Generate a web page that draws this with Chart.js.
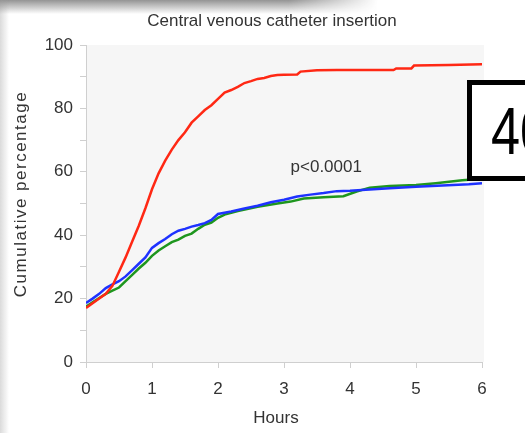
<!DOCTYPE html>
<html>
<head>
<meta charset="utf-8">
<script src="https://cdn.jsdelivr.net/npm/chart.js@4/dist/chart.umd.min.js"></script>
<style>
  body { margin: 0; background: #fff; }
  #wrap { position: relative; width: 525px; height: 433px; overflow: hidden; background: #fff; }
  #shadeTop {
    position: absolute; left: 0; top: 0; width: 525px; height: 14px;
    background: linear-gradient(to bottom, rgba(60,60,60,0.55), rgba(60,60,60,0));
    -webkit-mask-image: linear-gradient(to right, #000 55%, transparent 72%);
    mask-image: linear-gradient(to right, #000 55%, transparent 72%);
  }
  #shadeLeft {
    position: absolute; left: 0; top: 0; width: 9px; height: 433px;
    background: linear-gradient(to right, rgba(150,150,150,0.35), rgba(150,150,150,0));
  }
  #slideNum {
    position: absolute; left: 467px; top: 80px; width: 110px; height: 101px;
    box-sizing: border-box; border: 5px solid #000; background: #fff;
    font-family: "Liberation Sans", Arial, sans-serif; font-size: 67px; color: #000;
    line-height: 91px; padding-left: 19px; white-space: nowrap;
  }
  #slideNum span { display: inline-block; transform: scaleX(0.78); transform-origin: left center; }
</style>
</head>
<body>
<div id="wrap">
  <canvas id="myChart" width="525" height="433"></canvas>
  <div id="shadeTop"></div>
  <div id="shadeLeft"></div>
  <div id="slideNum"><span>40</span></div>
</div>
<script>
'use strict';

// text
let chartTitle = 'Central venous catheter insertion';
let xTitle = 'Hours';
let yTitle = 'Cumulative percentage';
let pLabel = 'p<0.0001';

// red curve
let redHours = [0, 0.1, 0.2, 0.3, 0.4, 0.5, 0.6, 0.7, 0.8, 0.9, 1.0, 1.1, 1.2, 1.3, 1.4, 1.5, 1.6, 1.7, 1.8, 1.9, 2.0, 2.1, 2.2, 2.3, 2.4, 2.5, 2.6, 2.7, 2.8, 2.9, 3.0, 3.2, 3.25, 3.5, 3.8, 4.66, 4.7, 4.93, 4.97, 5.5, 6.0];
let redPct = [17, 18.5, 20, 21.5, 24, 28.5, 33, 38, 43, 48.5, 54.5, 59.5, 63.5, 67, 70, 72.5, 75.5, 77.5, 79.5, 81, 83, 85, 85.8, 86.8, 88, 88.6, 89.3, 89.6, 90.2, 90.5, 90.6, 90.7, 91.6, 92, 92.1, 92.1, 92.6, 92.6, 93.5, 93.7, 93.9];

// blue curve
let blueHours = [0, 0.1, 0.2, 0.3, 0.4, 0.5, 0.6, 0.7, 0.8, 0.9, 1.0, 1.1, 1.2, 1.3, 1.4, 1.5, 1.6, 1.7, 1.8, 1.9, 2.0, 2.2, 2.4, 2.6, 2.8, 3.0, 3.2, 3.4, 3.6, 3.8, 4.0, 4.3, 4.6, 5.0, 5.4, 5.8, 6.0];
let bluePct = [18.6, 20, 21.5, 23.3, 24.5, 25.5, 27, 29, 31, 33, 36, 37.5, 38.8, 40.3, 41.4, 42, 42.7, 43.2, 43.8, 44.8, 46.7, 47.5, 48.4, 49.3, 50.4, 51.2, 52.2, 52.8, 53.3, 53.9, 54, 54.4, 54.8, 55.3, 55.7, 56.1, 56.4];

// green curve
let greenHours = [0, 0.1, 0.2, 0.3, 0.4, 0.5, 0.6, 0.7, 0.8, 0.9, 1.0, 1.1, 1.2, 1.3, 1.4, 1.5, 1.6, 1.7, 1.8, 1.9, 2.0, 2.1, 2.3, 2.6, 2.9, 3.1, 3.3, 3.6, 3.9, 4.1, 4.3, 4.6, 5.0, 5.3, 5.7, 6.0];
let greenPct = [17.4, 18.8, 20.2, 21.5, 22.5, 23.5, 25.5, 27.5, 29.5, 31.3, 33.5, 35.2, 36.5, 37.8, 38.6, 39.8, 40.5, 42, 43.3, 44, 45.5, 46.5, 47.6, 49, 50, 50.6, 51.6, 52, 52.3, 53.8, 55, 55.5, 55.8, 56.4, 57.3, 57.8];

function toPoints(xs, ys) {
  let pts = [];
  for (let i = 0; i < xs.length; i++) {
    pts.push({ x: xs[i], y: ys[i] });
  }
  return pts;
}

const fontFam = '"Liberation Sans", Arial, sans-serif';
const textColor = '#333';

// gray plot area + extra text
const decorPlugin = {
  id: 'decor',
  beforeDraw(chart) {
    const a = chart.chartArea;
    const ctx = chart.ctx;
    ctx.save();
    ctx.fillStyle = '#f6f6f6';
    ctx.fillRect(a.left, a.top, a.right - a.left + 2, a.bottom - a.top);
    ctx.restore();
  },
  afterDraw(chart) {
    const ctx = chart.ctx;
    const xs = chart.scales.x;
    const ys = chart.scales.y;
    ctx.save();
    ctx.fillStyle = textColor;
    ctx.font = '17px ' + fontFam;
    ctx.textAlign = 'center';
    ctx.textBaseline = 'middle';
    ctx.fillText(chartTitle, 272, 21);
    ctx.fillText(xTitle, 276, 418);
    ctx.fillText(pLabel, xs.getPixelForValue(3.64), ys.getPixelForValue(61.3));
    ctx.translate(21, 194);
    ctx.rotate(-Math.PI / 2);
    ctx.letterSpacing = '1.5px';
    ctx.fillText(yTitle, 0, 0);
    ctx.restore();
  }
};

const data = {
  datasets: [
    {
      label: 'red',
      data: toPoints(redHours, redPct),
      borderColor: 'rgb(255, 40, 20)',
      borderWidth: 2.5
    },
    {
      label: 'blue',
      data: toPoints(blueHours, bluePct),
      borderColor: 'rgb(30, 50, 255)',
      borderWidth: 2.5
    },
    {
      label: 'green',
      data: toPoints(greenHours, greenPct),
      borderColor: 'rgb(30, 150, 30)',
      borderWidth: 2.5
    }
  ]
};

const config = {
  type: 'line',
  data: data,
  options: {
    responsive: false,
    animation: false,
    layout: { padding: { top: 45, right: 43, left: 0, bottom: 0 } },
    elements: { point: { radius: 0 }, line: { tension: 0 } },
    plugins: { legend: { display: false }, tooltip: { enabled: false } },
    scales: {
      x: {
        type: 'linear',
        min: 0,
        max: 6,
        ticks: { stepSize: 1, color: textColor, font: { family: fontFam, size: 17 }, padding: 11, maxRotation: 0 },
        grid: { drawOnChartArea: false, tickLength: 6, color: '#cfcfcf' },
        border: { color: '#cfcfcf' },
        afterFit(scale) { scale.height = 71; }
      },
      y: {
        min: 0,
        max: 100,
        ticks: {
          stepSize: 10,
          color: textColor,
          font: { family: fontFam, size: 17 },
          padding: 7,
          callback: (v) => (v % 20 === 0 ? v : '')
        },
        grid: { drawOnChartArea: false, tickLength: 6, color: '#cfcfcf' },
        border: { color: '#cfcfcf' },
        afterFit(scale) { scale.width = 86; }
      }
    }
  },
  plugins: [decorPlugin]
};

const myChart = new Chart(document.getElementById('myChart'), config);
</script>
</body>
</html>
